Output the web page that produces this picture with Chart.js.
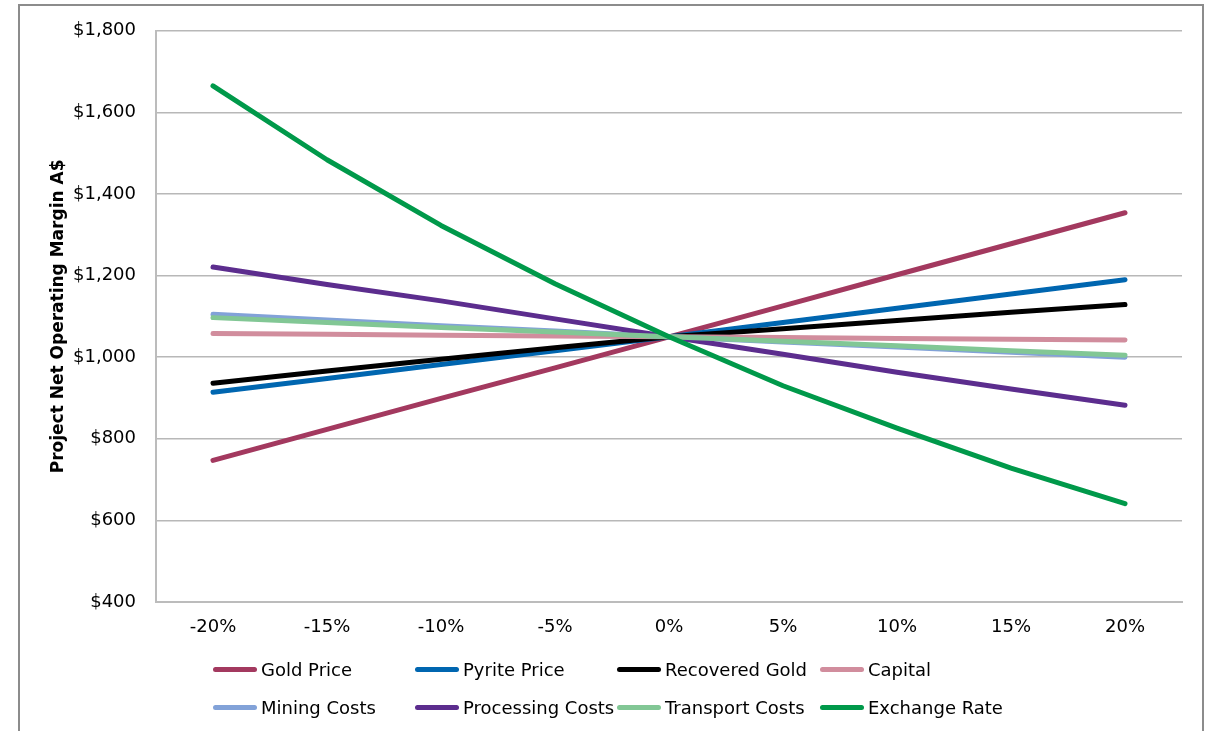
<!DOCTYPE html>
<html>
<head>
<meta charset="utf-8">
<script src="https://cdn.jsdelivr.net/npm/chart.js@4.4.1/dist/chart.umd.min.js"></script>
<style>
  html, body { margin: 0; padding: 0; background: #fff; overflow: hidden; }
  body { width: 1206px; height: 731px; position: relative; font-family: "DejaVu Sans", sans-serif; }
  #frame { position: absolute; left: 18px; top: 4px; width: 1182px; height: 800px; border: 2px solid #8c8c8c; box-sizing: content-box; }
  #c { position: absolute; left: 0; top: 0; }
  .lg { position: absolute; height: 24px; display: flex; align-items: center; font-size: 18px; color: #000; white-space: nowrap; }
  .lg .sw { width: 44px; height: 5px; border-radius: 2.5px; margin-right: 4px; }
</style>
</head>
<body>
<div id="frame"></div>
<canvas id="c" width="1206" height="731"></canvas>
<div id="legend"></div>
<script>
const categories = ["-20%", "-15%", "-10%", "-5%", "0%", "5%", "10%", "15%", "20%"];

const goldPrice       = [747, 823, 899, 974, 1050, 1126, 1202, 1278, 1354];
const pyritePrice     = [914, 948, 982, 1016, 1050, 1085, 1120, 1155, 1190];
const recoveredGold   = [936, 966, 995, 1023, 1050, 1070, 1090, 1110, 1129];
const capital         = [1058, 1056, 1054, 1052, 1050, 1048, 1046, 1044, 1042];
const miningCosts     = [1105, 1091, 1077, 1064, 1050, 1037, 1025, 1012, 1000];
const processingCosts = [1221, 1178, 1138, 1094, 1050, 1007, 963, 922, 882];
const transportCosts  = [1097, 1085, 1073, 1062, 1050, 1039, 1028, 1016, 1005];
const exchangeRate    = [1665, 1484, 1323, 1180, 1050, 930, 826, 728, 641];

const seriesNames  = ["Gold Price", "Pyrite Price", "Recovered Gold", "Capital",
                      "Mining Costs", "Processing Costs", "Transport Costs", "Exchange Rate"];
const seriesData   = [goldPrice, pyritePrice, recoveredGold, capital,
                      miningCosts, processingCosts, transportCosts, exchangeRate];
const seriesColors = ["#A3395F", "#0066B0", "#000000", "#D18D9D",
                      "#82A2D8", "#5C2D8E", "#82C795", "#00994A"];

const yMin = 400, yMax = 1800, yStep = 200;

const datasets = seriesNames.map((name, i) => ({
  label: name,
  data: seriesData[i],
  borderColor: seriesColors[i],
  backgroundColor: seriesColors[i],
  borderWidth: 5,
  borderCapStyle: 'round',
  borderJoinStyle: 'round',
  pointRadius: 0,
  pointHoverRadius: 0,
  tension: 0,
  fill: false,
  order: seriesNames.length - i
}));

const chart = new Chart(document.getElementById('c'), {
  type: 'line',
  data: { labels: categories, datasets: datasets },
  options: {
    responsive: false,
    animation: false,
    devicePixelRatio: 1,
    layout: { padding: { left: 0, top: 27, right: 24, bottom: 0 } },
    plugins: { legend: { display: false }, tooltip: { enabled: false } },
    scales: {
      x: {
        type: 'category',
        offset: true,
        grid: { display: false, drawTicks: false },
        border: { display: true, color: '#bcbcbc', width: 2 },
        ticks: { color: '#000', font: { family: 'DejaVu Sans', size: 18 }, padding: 15, maxRotation: 0 },
        afterFit: (s) => { s.height = 129; }
      },
      y: {
        min: yMin, max: yMax,
        grid: { color: '#b8b8b8', lineWidth: 1.5, drawTicks: false },
        border: { display: true, color: '#bcbcbc', width: 2 },
        ticks: {
          stepSize: yStep, color: '#000', padding: 20,
          font: { family: 'DejaVu Sans', size: 18 },
          callback: (v) => '$' + Number(v).toLocaleString('en-US')
        },
        title: {
          display: true, text: 'Project Net Operating Margin A$', color: '#000',
          font: { family: 'DejaVu Sans', size: 17, weight: 'bold' },
          padding: { top: 48, bottom: 0 }
        },
        afterFit: (s) => { s.width = 156; }
      }
    }
  }
});

// HTML legend built from the datasets (fixed columns like the original)
const legendCols = [213, 415, 617, 820];
const legendRows = [657, 695];
const legendEl = document.getElementById('legend');
seriesNames.forEach((name, i) => {
  const item = document.createElement('div');
  item.className = 'lg';
  item.style.left = legendCols[i % 4] + 'px';
  item.style.top = legendRows[Math.floor(i / 4)] + 'px';
  const sw = document.createElement('span');
  sw.className = 'sw';
  sw.style.background = seriesColors[i];
  const tx = document.createElement('span');
  tx.textContent = name;
  item.appendChild(sw);
  item.appendChild(tx);
  legendEl.appendChild(item);
});
</script>
</body>
</html>
